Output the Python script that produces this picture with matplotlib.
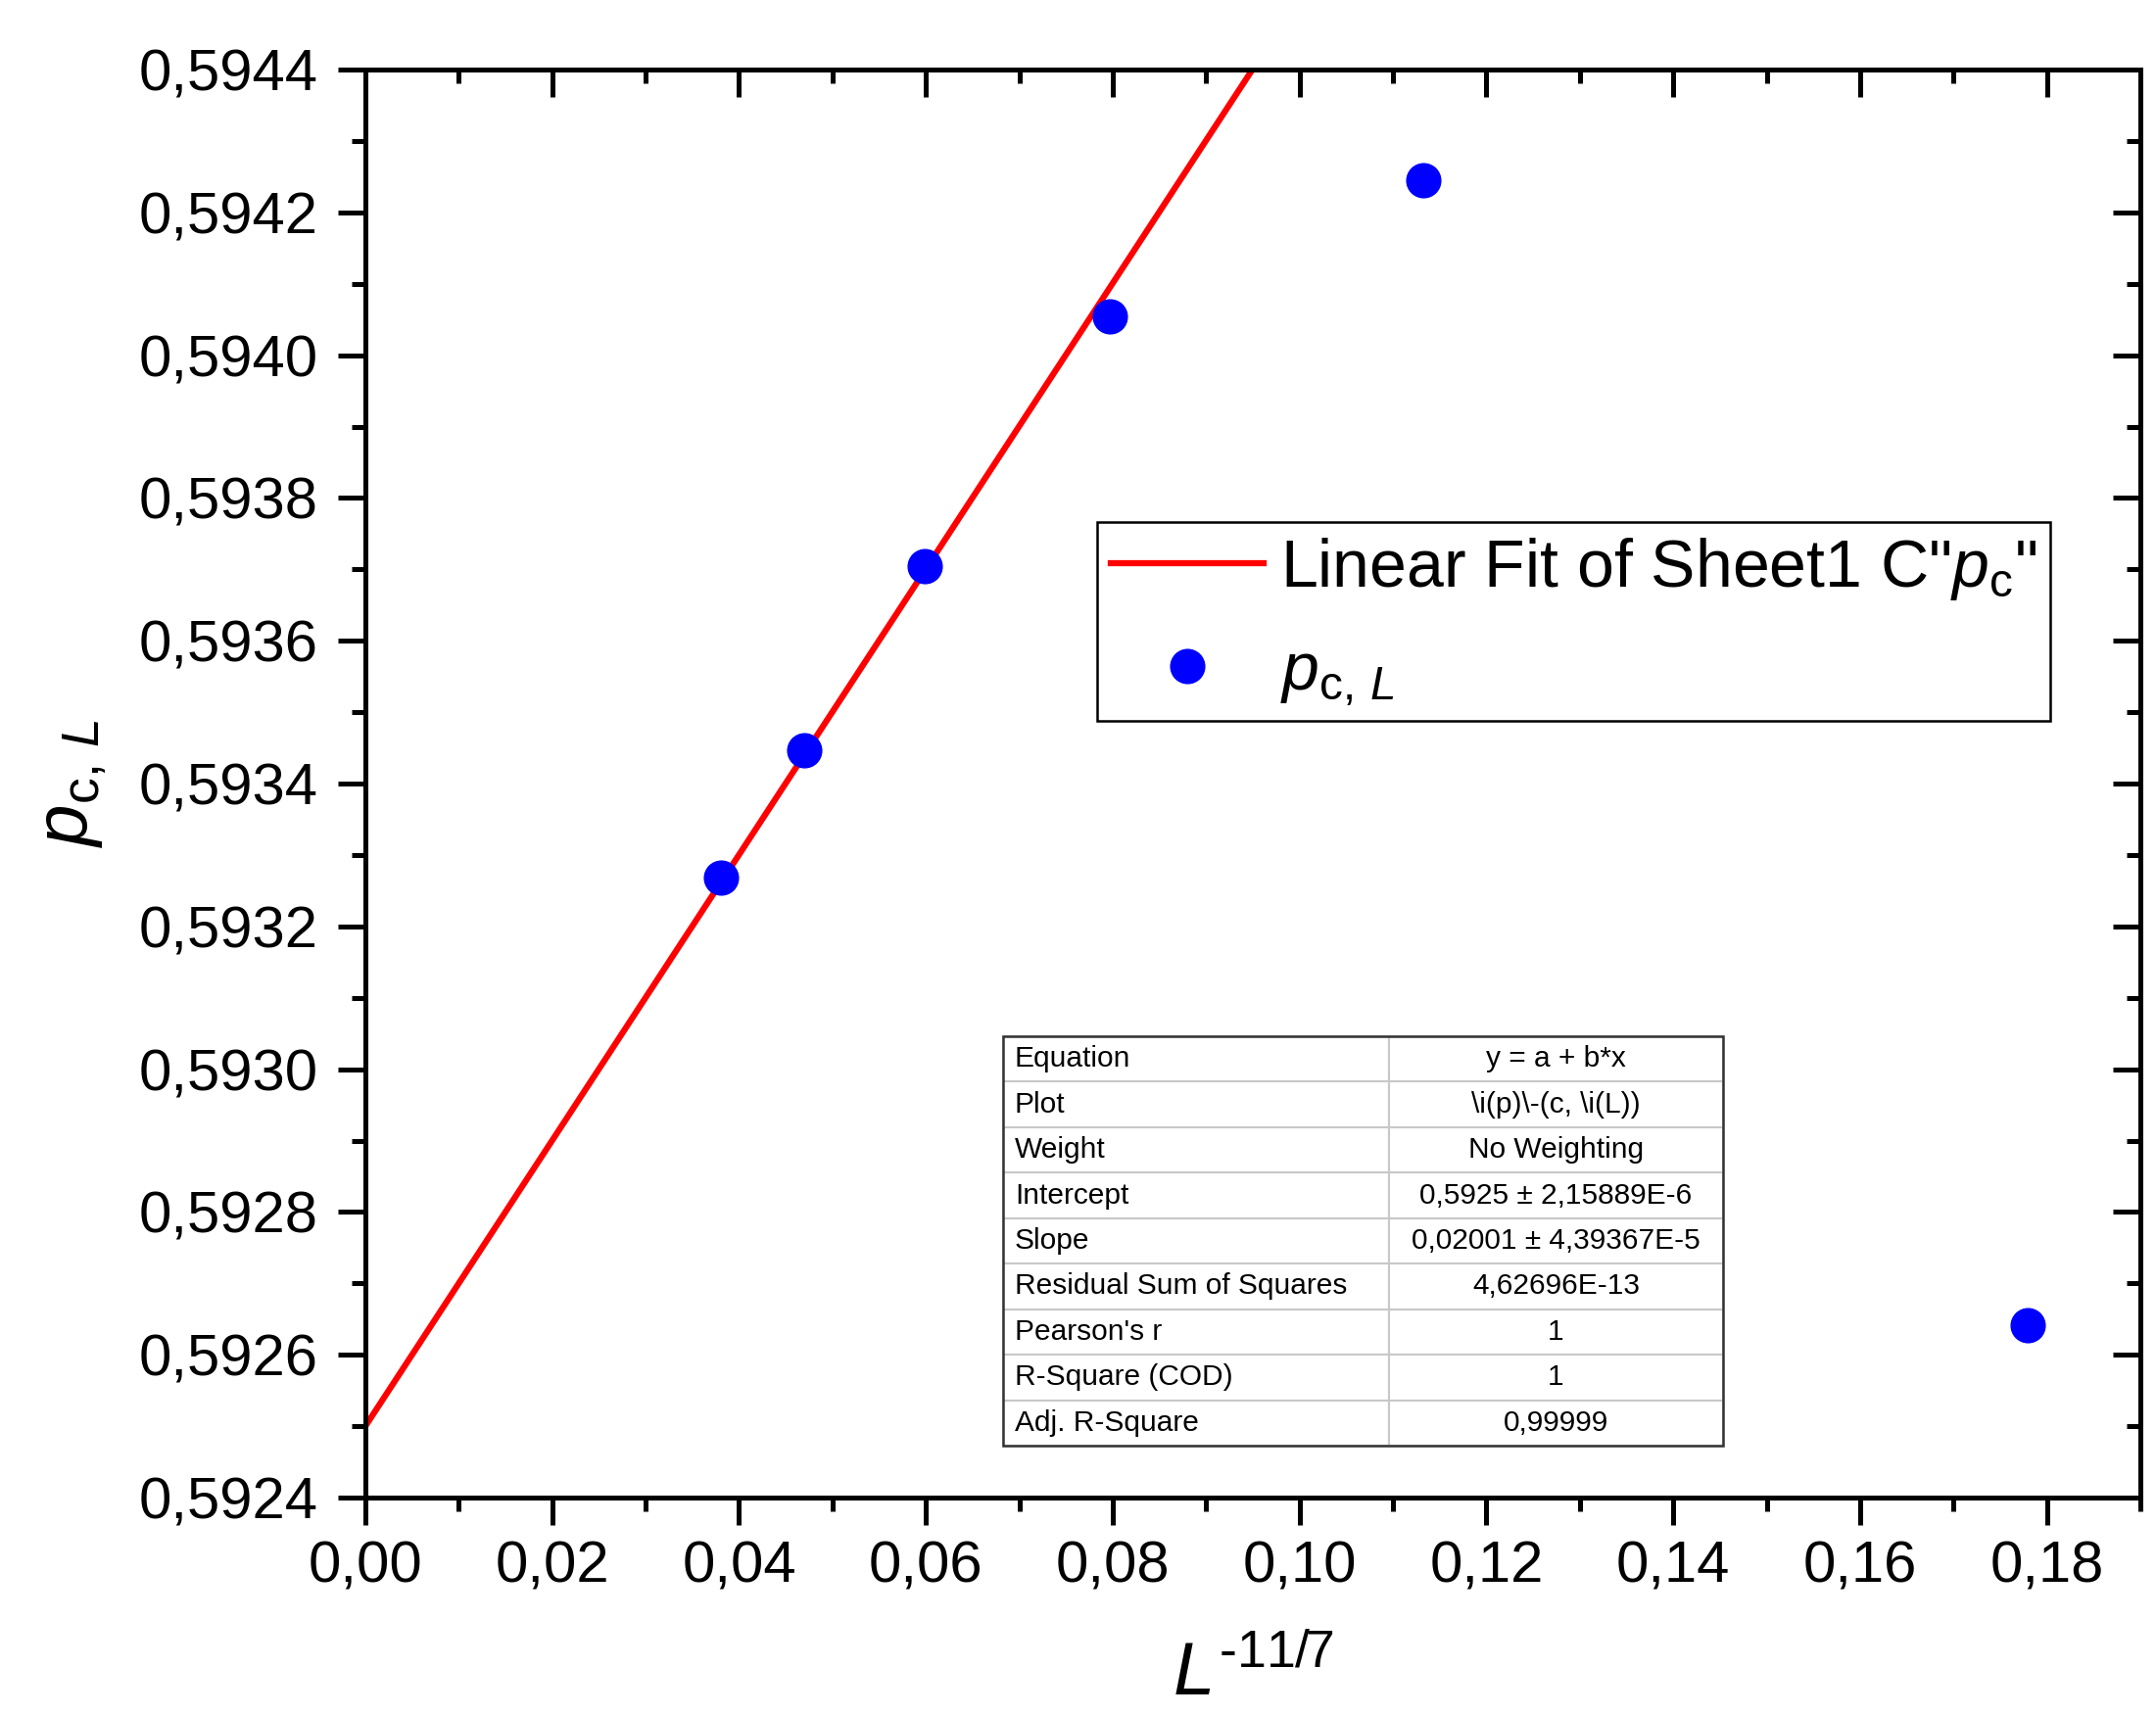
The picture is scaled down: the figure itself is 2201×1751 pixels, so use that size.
import matplotlib
matplotlib.use("Agg")
import matplotlib.pyplot as plt
from matplotlib.ticker import MultipleLocator, FuncFormatter
from matplotlib.table import Table
from matplotlib.patches import Rectangle

# Fonts (Arial look-alike) and math italics
plt.rcParams["font.family"] = "Liberation Sans"
plt.rcParams["mathtext.fontset"] = "custom"
plt.rcParams["mathtext.rm"] = "Liberation Sans"
plt.rcParams["mathtext.it"] = "Liberation Sans:italic"
plt.rcParams["mathtext.bf"] = "Liberation Sans:bold"
plt.rcParams["axes.linewidth"] = 3.6

# Data
L_inv = [0.0381, 0.0470, 0.0599, 0.0797, 0.1132, 0.1779]
p_cL = [0.593268, 0.593446, 0.593704, 0.594054, 0.594245, 0.592642]

# Linear fit parameters (from the fit table)
intercept = 0.5925
slope = 0.02001
x_fit = [0.0, 0.19]

table_labels = ["Equation", "Plot", "Weight", "Intercept", "Slope",
                "Residual Sum of Squares", "Pearson's r", "R-Square (COD)",
                "Adj. R-Square"]
table_values = ["y = a + b*x", r"\i(p)\-(c, \i(L))", "No Weighting",
                "0,5925 ± 2,15889E-6", "0,02001 ± 4,39367E-5", "4,62696E-13",
                "1", "1", "0,99999"]

W, H = 2201, 1751
fig = plt.figure(figsize=(W / 100, H / 100), dpi=100)
ax = fig.add_axes([373 / W, 1 - 1529 / H, 1812 / W, 1458 / H])

y_fit = [intercept + slope * x for x in x_fit]
ax.plot(x_fit, y_fit, color="#ff0000", lw=4.5, zorder=2,
        label='Linear Fit of Sheet1 C"$p_\\mathrm{c}$"')
ax.plot(L_inv, p_cL, "o", color="#0000ff", ms=25, mec="#0000ff", zorder=3,
        label=r"$p_{\mathrm{c,}\,L}$")

ax.set_xlim(0, 0.19)
ax.set_ylim(0.5924, 0.5944)

ax.xaxis.set_major_locator(MultipleLocator(0.02))
ax.xaxis.set_minor_locator(MultipleLocator(0.01))
ax.yaxis.set_major_locator(MultipleLocator(0.0002))
ax.yaxis.set_minor_locator(MultipleLocator(0.0001))
ax.xaxis.set_major_formatter(FuncFormatter(lambda v, p: f"{v:.2f}".replace(".", ",")))
ax.yaxis.set_major_formatter(FuncFormatter(lambda v, p: f"{v:.4f}".replace(".", ",")))

ax.tick_params(which="major", direction="out", length=20, width=3.6, labelsize=43)
ax.tick_params(which="minor", direction="out", length=10, width=3.6)
ax.tick_params(axis="x", which="major", pad=11)
ax.tick_params(axis="y", which="major", pad=15)

# inward ticks on top and right
top = ax.secondary_xaxis("top")
top.xaxis.set_major_locator(MultipleLocator(0.02))
top.xaxis.set_minor_locator(MultipleLocator(0.01))
top.tick_params(which="major", direction="in", length=20, width=3.6, labeltop=False)
top.tick_params(which="minor", direction="in", length=10, width=3.6)
right = ax.secondary_yaxis("right")
right.yaxis.set_major_locator(MultipleLocator(0.0002))
right.yaxis.set_minor_locator(MultipleLocator(0.0001))
right.tick_params(which="major", direction="in", length=20, width=3.6, labelright=False)
right.tick_params(which="minor", direction="in", length=10, width=3.6)

ax.set_xlabel(r"$L^{\text{-11/7}}$", fontsize=55)
ax.xaxis.set_label_coords(0.5, -0.1)
ax.set_ylabel(r"$p_{\mathrm{c,}\,L}$", fontsize=55)
ax.yaxis.set_label_coords(-0.145, 0.5)

leg = ax.legend(loc="upper left", bbox_to_anchor=(1120 / W, 1 - 533 / H),
                bbox_transform=fig.transFigure, borderaxespad=0, fontsize=49,
                frameon=True, fancybox=False, edgecolor="black", framealpha=1,
                handlelength=2.3, handletextpad=0.25, borderpad=0.2,
                labelspacing=0.58, numpoints=1)
leg.get_frame().set_linewidth(1.8)

# fit results table
tx, ty, tw, th = 0.3593, 0.03635, 0.4056, 0.2867
tbl = Table(ax, bbox=[tx, ty, tw, th])
n = len(table_labels)
for i, (lab, val) in enumerate(zip(table_labels, table_values)):
    c0 = tbl.add_cell(i, 0, 0.536, 1 / n, text=lab, loc="left")
    c1 = tbl.add_cell(i, 1, 0.464, 1 / n, text=val, loc="center")
    for c in (c0, c1):
        c.set_edgecolor("#c8c8c8")
        c.set_linewidth(1.5)
        c.PAD = 0.03
tbl.auto_set_font_size(False)
tbl.set_fontsize(21.5)
ax.add_table(tbl)
ax.add_patch(Rectangle((tx, ty), tw, th, transform=ax.transAxes, fill=False,
                       edgecolor="#333333", lw=1.8, zorder=5))

fig.savefig("out.png", dpi=100)
